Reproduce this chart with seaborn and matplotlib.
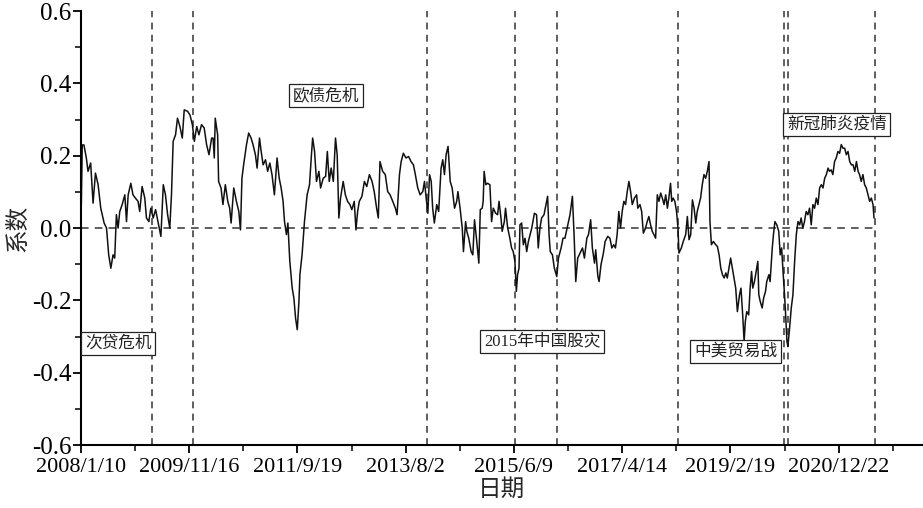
import seaborn as sns
import matplotlib.pyplot as plt
from matplotlib.ticker import MultipleLocator

# trading-day index and rolling coefficient
day_idx = [0, 5, 12, 22, 29, 40, 50, 60, 71, 82, 96, 106, 115, 124, 133, 140, 147, 154, 161, 171,
           182, 189, 196, 207, 216, 226, 237, 244, 254, 265, 272, 282, 290, 300, 310, 321, 332, 342, 351, 360,
           369, 376, 383, 393, 401, 411, 421, 429, 443, 453, 463, 471, 481, 490, 501, 512, 522, 532, 543,
           549, 554, 558, 568, 572, 582, 590, 600, 610, 618, 624, 635, 646, 656, 663, 669, 676, 688, 697, 707,
           715, 725, 732, 742, 749, 757, 767, 776, 785, 794, 804, 815, 824, 832, 840, 846, 854, 860, 868, 878,
           885, 892, 899, 906, 910, 919, 929, 940, 950, 958, 963, 971, 979, 989, 996, 1007, 1017, 1024, 1032,
           1040, 1049, 1058, 1065, 1072, 1079, 1090,
           1099, 1108, 1118, 1126, 1136, 1143, 1150, 1157, 1168, 1178, 1188, 1199, 1210, 1219, 1229, 1236,
           1243, 1254, 1265, 1275, 1285, 1296, 1307, 1314, 1324, 1331, 1340, 1351, 1362, 1372, 1382, 1390,
           1400, 1410, 1421, 1428, 1435, 1442, 1449, 1456, 1462, 1469, 1479, 1487, 1497, 1504, 1511, 1518,
           1526, 1535, 1543, 1553, 1562, 1567, 1576, 1585, 1590, 1599, 1604, 1612, 1622, 1629, 1636,
           1644, 1654, 1660, 1668, 1672, 1676, 1683, 1690, 1700, 1707, 1714, 1724, 1732, 1738, 1746, 1751,
           1760, 1765, 1774, 1783, 1790, 1797, 1804, 1810, 1815, 1821, 1825, 1832, 1839, 1846, 1853, 1860,
           1867, 1874, 1885, 1894, 1901, 1908, 1915, 1925, 1933, 1940, 1946, 1951, 1960, 1968, 1978, 1985,
           1996, 2004, 2012, 2024, 2033, 2043, 2050, 2057, 2065, 2075, 2085, 2093, 2103, 2110, 2119, 2126,
           2135, 2140, 2149, 2154, 2162, 2172, 2179, 2190,
           2199, 2207, 2215, 2222, 2229, 2236, 2243, 2250, 2257, 2264, 2271, 2278, 2285, 2292, 2301, 2310,
           2315, 2324, 2331, 2338, 2347, 2354, 2361, 2368, 2375, 2382, 2389, 2396, 2403, 2410, 2417, 2424,
           2431, 2438, 2444, 2451, 2456, 2462, 2469, 2476, 2482, 2486, 2496, 2504, 2514, 2521, 2528, 2535,
           2542, 2549, 2556, 2562, 2569, 2576, 2583, 2590, 2597, 2604, 2611, 2615, 2621, 2629, 2639, 2646,
           2653, 2660, 2667, 2674, 2681, 2687, 2694, 2701, 2708, 2715, 2722, 2729, 2738,
           2744, 2751, 2757, 2762, 2768, 2776, 2782, 2788, 2793, 2800, 2807, 2814, 2818, 2824, 2832, 2838,
           2846, 2851, 2860, 2865, 2874, 2879, 2885, 2893, 2901, 2907, 2913, 2918, 2925, 2929, 2935, 2939,
           2946, 2953, 2960, 2967, 2974, 2981, 2988, 2994, 3001, 3008, 3015, 3022, 3029, 3036, 3043, 3050,
           3057, 3064, 3071, 3078, 3085, 3092, 3099, 3106, 3112, 3119, 3126, 3133, 3140, 3147, 3154, 3161,
           3168, 3175, 3182, 3189, 3196, 3203, 3210, 3217, 3224, 3231, 3237, 3244, 3251, 3258, 3265, 3272,
           3279, 3286, 3293, 3297]

coef = [0.02, 0.23, 0.23, 0.194, 0.157, 0.18, 0.069, 0.152, 0.12, 0.055, 0.014, 0.0, -0.074, -0.111, -0.074, -0.083, 0.037, 0.0, 0.046, 0.065,
        0.092, 0.018, 0.092, 0.124, 0.092, 0.083, 0.074, 0.046, 0.115, 0.083, 0.028, 0.018, 0.055, 0.028, 0.051, 0.014, -0.023, 0.12, 0.092, 0.037,
        0.0, 0.092, 0.24, 0.258, 0.304, 0.281, 0.249, 0.327, 0.323, 0.313, 0.286, 0.24, 0.281, 0.258, 0.286, 0.277, 0.231, 0.203, 0.249,
        0.249, 0.194, 0.304, 0.258, 0.129, 0.111, 0.065, 0.12, 0.074, 0.055, 0.014, 0.111, 0.074, 0.046, -0.005, 0.138, 0.175, 0.231, 0.263, 0.249,
        0.231, 0.203, 0.166, 0.249, 0.212, 0.175, 0.189, 0.157, 0.18, 0.148, 0.092, 0.194, 0.138, 0.111, 0.074, 0.018, -0.018, 0.014, -0.092, -0.166,
        -0.194, -0.249, -0.281, -0.203, -0.129, -0.074, 0.018, 0.092, 0.12, 0.203, 0.249, 0.212, 0.129, 0.157, 0.111, 0.138, 0.143, 0.212, 0.129,
        0.166, 0.129, 0.249, 0.203, 0.028, 0.083, 0.129,
        0.092, 0.074, 0.065, 0.051, 0.074, -0.005, 0.046, 0.074, 0.088, 0.129, 0.115, 0.148, 0.129, 0.101, 0.055, 0.028,
        0.184, 0.157, 0.148, 0.101, 0.092, 0.074, 0.055, 0.037, 0.148, 0.184, 0.207, 0.194, 0.198, 0.184, 0.175, 0.148,
        0.111, 0.092, 0.101, 0.129, 0.083, 0.041, 0.148, 0.129, 0.055, 0.014, 0.065, 0.046, 0.166, 0.189, 0.148, 0.203,
        0.226, 0.129, 0.111, 0.055, 0.074, 0.101, 0.055, 0.0, -0.065, 0.018, -0.009, -0.028, -0.065, -0.074, 0.023,
        -0.028, -0.097, 0.051, 0.055, 0.074, 0.157, 0.12, 0.124, 0.12, 0.018, 0.055, 0.041, 0.037, 0.074, 0.028, -0.009,
        0.018, 0.055, 0.0, -0.028, -0.055, -0.065, -0.092, -0.175, -0.129, -0.111, 0.009, 0.014, -0.046, -0.028, -0.065, -0.037,
        -0.018, 0.0, 0.041, 0.037, -0.055, 0.0, 0.028, 0.037, 0.065, 0.088, -0.018, -0.065, -0.074, -0.111, -0.134, -0.083,
        -0.055, -0.028, -0.028, 0.009, 0.037, 0.088, -0.018, -0.148, -0.083, -0.069, -0.055, -0.083, -0.028, -0.018, 0.023, -0.055,
        -0.097, -0.06, -0.134, -0.148, -0.101, -0.069, -0.037, -0.023,
        -0.028, -0.055, -0.046, -0.055, -0.018, 0.046, 0.0, 0.046, 0.074, 0.065, 0.101, 0.129, 0.101, 0.065, 0.083, 0.092,
        0.055, 0.065, 0.046, -0.014, 0.0, 0.018, 0.032, 0.009, -0.009, -0.018, -0.028, 0.092, 0.074, 0.097, 0.083, 0.065,
        0.092, 0.055, 0.083, 0.124, 0.074, 0.083, 0.074, 0.046, 0.0, -0.069, -0.055, -0.037, -0.018, 0.032, -0.032, -0.018,
        0.078, 0.055, 0.014, 0.046, 0.065, 0.083, 0.12, 0.148, 0.138, 0.157, 0.184, 0.018, -0.046, -0.037, -0.046, -0.051,
        -0.074, -0.111, -0.129, -0.138, -0.124, -0.138, -0.111, -0.083, -0.111, -0.138, -0.166, -0.231, -0.184,
        -0.166, -0.24, -0.313, -0.258, -0.231, -0.24, -0.166, -0.12, -0.166, -0.148, -0.12, -0.092, -0.184, -0.203, -0.221, -0.194,
        -0.175, -0.148, -0.129, -0.148, -0.055, -0.018, 0.018, 0.009, -0.009, -0.074, -0.055, -0.111, -0.184, -0.231, -0.313, -0.327,
        -0.277, -0.221, -0.184, -0.092, -0.018, 0.018, 0.009, 0.028, 0.0, 0.018, 0.046, 0.037, 0.055, 0.009, 0.065, 0.055,
        0.083, 0.065, 0.111, 0.12, 0.111, 0.138, 0.148, 0.166, 0.157, 0.161, 0.148, 0.184, 0.194, 0.212, 0.207, 0.231,
        0.221, 0.221, 0.203, 0.212, 0.184, 0.175, 0.175, 0.157, 0.184, 0.157, 0.148, 0.129, 0.148, 0.12, 0.111, 0.092,
        0.074, 0.083, 0.065, 0.028]

# event boundaries (trading-day index)
event_idx = [296, 467, 1437, 1804, 1979, 2483, 2923, 2939, 3300]

tick_pos = [0, 450, 900, 1350, 1800, 2250, 2700, 3150]
tick_dates = ["2008/1/10", "2009/11/16", "2011/9/19", "2013/8/2",
              "2015/6/9", "2017/4/14", "2019/2/19", "2020/12/22"]

event_names = ["次贷危机", "欧债危机", "2015年中国股灾", "中美贸易战", "新冠肺炎疫情"]
name_x = [154, 1017, 1917, 2721, 3142]
name_y = [-0.32, 0.366, -0.314, -0.342, 0.287]

sns.set_style("ticks")
plt.rcParams['font.family'] = ['Liberation Serif', 'Noto Sans CJK SC']

fig = plt.figure(figsize=(9.23, 5.08), dpi=100)
ax = fig.add_axes([0.0878, 0.124, 0.912, 0.854])

sns.lineplot(x=day_idx, y=coef, ax=ax, color="#111111", linewidth=1.1)

for xv in event_idx:
    ax.axvline(xv, color="#333333", linestyle=(0, (4.5, 3.5)), linewidth=1.1, zorder=1)
ax.hlines(0, 0, 3300, color="#333333", linestyles=(0, (5, 4)), linewidth=1.1, zorder=1)

for name, xv, yv in zip(event_names, name_x, name_y):
    ax.text(xv, yv, name, ha="center", va="center", fontsize=12,
            family=['Liberation Serif', 'Noto Sans CJK SC'], color="#222222",
            bbox=dict(boxstyle="square,pad=0.22", fc="white", ec="#222222", lw=0.9))

ax.set_xlim(0, 3500)
ax.set_ylim(-0.6, 0.6)
ax.set_xticks(tick_pos)
ax.set_xticklabels(tick_dates)
ax.xaxis.set_minor_locator(MultipleLocator(225))
ax.set_yticks([-0.6, -0.4, -0.2, 0.0, 0.2, 0.4, 0.6])
ax.set_yticklabels(["-0.6", "-0.4", "-0.2", "0.0", "0.2", "0.4", "0.6"])
ax.yaxis.set_minor_locator(MultipleLocator(0.1))

ax.tick_params(axis="both", which="major", direction="out", length=6, width=1.3,
               color="black", labelcolor="black")
ax.tick_params(axis="x", which="major", labelsize=16, pad=3)
ax.tick_params(axis="y", which="major", labelsize=18, pad=1)
ax.tick_params(axis="both", which="minor", direction="out", length=4, width=1.1, color="black")

sns.despine(ax=ax)
for side in ["left", "bottom"]:
    ax.spines[side].set_linewidth(1.5)
    ax.spines[side].set_color("black")

ax.set_xlabel("日期", fontsize=17, family=['Noto Sans CJK SC'], labelpad=1)
ax.set_ylabel("系数", fontsize=17, family=['Noto Sans CJK SC'], labelpad=2)

plt.savefig("out.png", dpi=100)
